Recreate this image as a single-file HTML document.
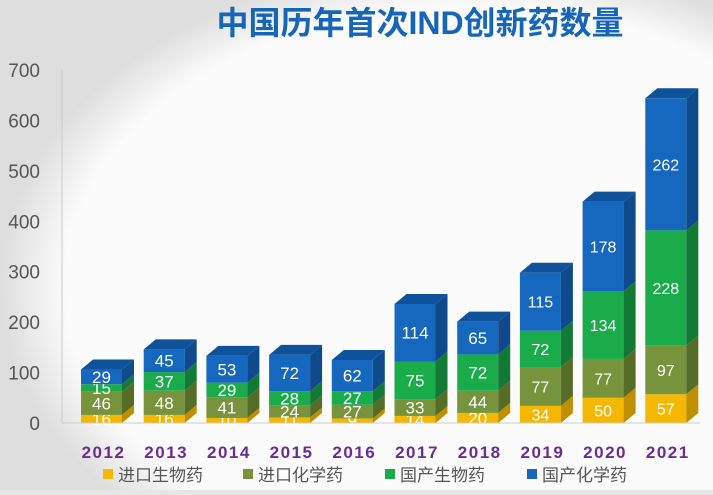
<!DOCTYPE html>
<html><head><meta charset="utf-8"><style>
body{margin:0;width:713px;height:490px;overflow:hidden;background:#e6e6e6;font-family:"Liberation Sans","Noto Sans CJK SC",sans-serif}
</style></head><body>
<svg width="713" height="490">
<defs>
<radialGradient id="bg" cx="0.66" cy="0.58" r="0.66">
<stop offset="0.86" stop-color="#fbfbfb"/><stop offset="1" stop-color="#dedede"/>
</radialGradient>
</defs>
<rect width="713" height="490" fill="url(#bg)"/>
<text x="420" y="34" text-anchor="middle" font-size="32" font-weight="bold" fill="#1565b8">中国历年首次IND创新药数量</text>
<g id="yaxis"></g>
<g id="bars"></g>
<g id="xaxis"></g>
<g id="legend"></g>
</svg>
<script>
const years=["2012","2013","2014","2015","2016","2017","2018","2019","2020","2021"];
const importBio=[16,16,10,11,9,14,20,34,50,57];
const importChem=[46,48,41,24,27,33,44,77,77,97];
const domBio=[15,37,29,28,27,75,72,72,134,228];
const domChem=[29,45,53,72,62,114,65,115,178,262];
const yTicks=[0,100,200,300,400,500,600,700];
const seriesNames=["进口生物药","进口化学药","国产生物药","国产化学药"];
const series=[importBio,importChem,domBio,domChem];
const front=["#f5b800","#77933c","#1aab4b","#1668bf"];
const side=["#c08f00","#566d28","#127a35","#0e4a8c"];
const topc=["#d9a300","#5f7a2e","#15903f","#0f529c"];
const NS="http://www.w3.org/2000/svg";
const y0=423,pxPer=353/700,x0=81,step=62.7,bw=41,dx=12,dy=10;
const Y=v=>y0-v*pxPer, X=i=>x0+i*step;
function mk(tag,attrs,parent){const e=document.createElementNS(NS,tag);for(const k in attrs)e.setAttribute(k,attrs[k]);parent.appendChild(e);return e;}
const ya=document.getElementById('yaxis');
mk('line',{x1:62,y1:y0,x2:62,y2:70,stroke:'#ccc'},ya);
yTicks.forEach(t=>{const e=mk('text',{x:40,y:Y(t)+7,'text-anchor':'end','font-size':19,fill:'#555'},ya);e.textContent=t;

});
const bars=document.getElementById('bars');
years.forEach((yr,i)=>{let cum=0;const x=X(i);
series.forEach((s,k)=>{const v=s[i];const yb=Y(cum),yt=Y(cum+v);
const g=mk('g',{},bars);


mk('rect',{x:x,y:yt,width:bw,height:yb-yt,fill:front[k]},g);
mk('polygon',{points:`${x+bw},${yt} ${x+bw+dx},${yt-dy} ${x+bw+dx},${yb-dy} ${x+bw},${yb}`,fill:side[k]},g);
if(k===3)mk('polygon',{points:`${x},${yt} ${x+dx},${yt-dy} ${x+bw+dx},${yt-dy} ${x+bw},${yt}`,fill:topc[k]},g);
const fs=i>=7?16:17;
const t=mk('text',{x:x+bw/2,y:(yt+yb)/2+6,'text-anchor':'middle','font-size':fs,fill:'#fff'},g);t.textContent=v;


cum+=v;});});
const xa=document.getElementById('xaxis');
mk('line',{x1:62,y1:y0,x2:700,y2:y0,stroke:'#ccc'},xa);
years.forEach((yr,i)=>{const t=mk('text',{x:X(i)+bw/2+2,y:458,'text-anchor':'middle','font-size':17,'font-weight':'bold',fill:'#6a2c91','letter-spacing':'1.5'},xa);t.textContent=yr;

});
const lg=document.getElementById('legend');
const lx=[103,243,385,527];
seriesNames.forEach((n,k)=>{const g=mk('g',{},lg);


mk('rect',{x:lx[k],y:469,width:10,height:10,fill:front[k]},g);
const t=mk('text',{x:lx[k]+15,y:481,'font-size':17,fill:'#555'},g);t.textContent=n;});
</script>
</body></html>
